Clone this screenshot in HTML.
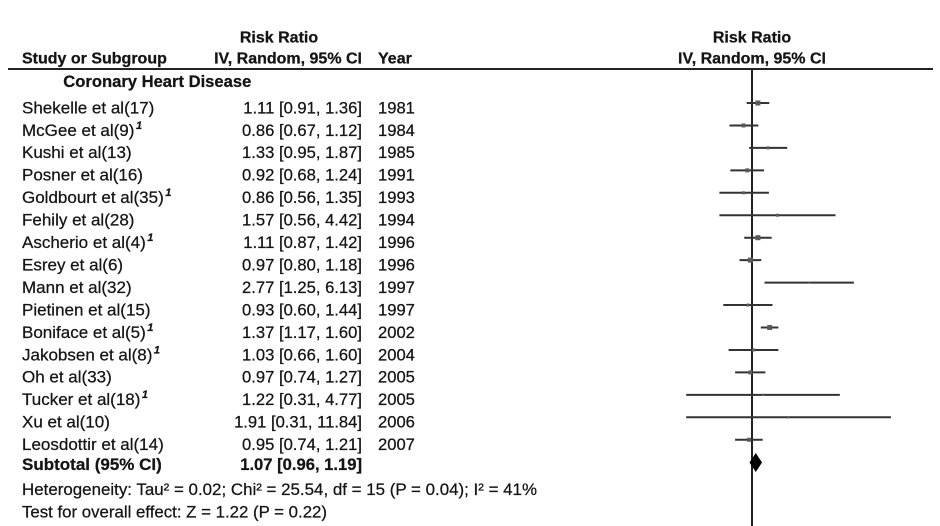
<!DOCTYPE html>
<html><head><meta charset="utf-8"><style>
html,body{margin:0;padding:0;background:#fff;}
svg{display:block;}
text{font-family:"Liberation Sans",Arial,sans-serif;fill:#141414;stroke:#141414;stroke-width:0.25px;}
.b{font-weight:bold;}
.n{font-size:17px;}
.v{font-size:16.6px;}
.h{font-size:16px;font-weight:bold;}
.sup{font-size:11px;font-style:italic;font-weight:bold;}
</style></head><body>
<svg width="940" height="526" viewBox="0 0 940 526" xmlns="http://www.w3.org/2000/svg">
<rect width="940" height="526" fill="#fff"/>
<!-- headers -->
<text class="h" x="279" y="42.7" text-anchor="middle">Risk Ratio</text>
<text class="h" x="22" y="63.5">Study or Subgroup</text>
<text class="h" x="362" y="63.5" text-anchor="end">IV, Random, 95% CI</text>
<text class="h" x="378" y="63.5">Year</text>
<text class="h" x="752" y="42.7" text-anchor="middle">Risk Ratio</text>
<text class="h" x="752" y="63.5" text-anchor="middle">IV, Random, 95% CI</text>
<line x1="8" y1="69" x2="933" y2="69" stroke="#222" stroke-width="2"/>
<line x1="752" y1="69" x2="752" y2="526" stroke="#222" stroke-width="2"/>
<text class="b" x="63.3" y="87" font-size="16.6" textLength="188" lengthAdjust="spacingAndGlyphs">Coronary Heart Disease</text>

<g>
<text class="n" x="22" y="113.3">Shekelle et al(17)</text>
<text class="n" x="22" y="135.75">McGee et al(9)<tspan class="sup" dx="1.5" dy="-7">1</tspan></text>
<text class="n" x="22" y="158.2">Kushi et al(13)</text>
<text class="n" x="22" y="180.65">Posner et al(16)</text>
<text class="n" x="22" y="203.1">Goldbourt et al(35)<tspan class="sup" dx="1.5" dy="-7">1</tspan></text>
<text class="n" x="22" y="225.55">Fehily et al(28)</text>
<text class="n" x="22" y="248">Ascherio et al(4)<tspan class="sup" dx="1.5" dy="-7">1</tspan></text>
<text class="n" x="22" y="270.45">Esrey et al(6)</text>
<text class="n" x="22" y="292.9">Mann et al(32)</text>
<text class="n" x="22" y="315.35">Pietinen et al(15)</text>
<text class="n" x="22" y="337.8">Boniface et al(5)<tspan class="sup" dx="1.5" dy="-7">1</tspan></text>
<text class="n" x="22" y="360.25">Jakobsen et al(8)<tspan class="sup" dx="1.5" dy="-7">1</tspan></text>
<text class="n" x="22" y="382.7">Oh et al(33)</text>
<text class="n" x="22" y="405.15">Tucker et al(18)<tspan class="sup" dx="1.5" dy="-7">1</tspan></text>
<text class="n" x="22" y="427.6">Xu et al(10)</text>
<text class="n" x="22" y="450.05">Leosdottir et al(14)</text>
</g>
<g>
<text class="v" x="362" y="113.3" text-anchor="end">1.11 [0.91, 1.36]</text>
<text class="v" x="362" y="135.75" text-anchor="end">0.86 [0.67, 1.12]</text>
<text class="v" x="362" y="158.2" text-anchor="end">1.33 [0.95, 1.87]</text>
<text class="v" x="362" y="180.65" text-anchor="end">0.92 [0.68, 1.24]</text>
<text class="v" x="362" y="203.1" text-anchor="end">0.86 [0.56, 1.35]</text>
<text class="v" x="362" y="225.55" text-anchor="end">1.57 [0.56, 4.42]</text>
<text class="v" x="362" y="248" text-anchor="end">1.11 [0.87, 1.42]</text>
<text class="v" x="362" y="270.45" text-anchor="end">0.97 [0.80, 1.18]</text>
<text class="v" x="362" y="292.9" text-anchor="end">2.77 [1.25, 6.13]</text>
<text class="v" x="362" y="315.35" text-anchor="end">0.93 [0.60, 1.44]</text>
<text class="v" x="362" y="337.8" text-anchor="end">1.37 [1.17, 1.60]</text>
<text class="v" x="362" y="360.25" text-anchor="end">1.03 [0.66, 1.60]</text>
<text class="v" x="362" y="382.7" text-anchor="end">0.97 [0.74, 1.27]</text>
<text class="v" x="362" y="405.15" text-anchor="end">1.22 [0.31, 4.77]</text>
<text class="v" x="362" y="427.6" text-anchor="end">1.91 [0.31, 11.84]</text>
<text class="v" x="362" y="450.05" text-anchor="end">0.95 [0.74, 1.21]</text>
</g>
<g>
<text class="v" x="378" y="113.3">1981</text>
<text class="v" x="378" y="135.75">1984</text>
<text class="v" x="378" y="158.2">1985</text>
<text class="v" x="378" y="180.65">1991</text>
<text class="v" x="378" y="203.1">1993</text>
<text class="v" x="378" y="225.55">1994</text>
<text class="v" x="378" y="248">1996</text>
<text class="v" x="378" y="270.45">1996</text>
<text class="v" x="378" y="292.9">1997</text>
<text class="v" x="378" y="315.35">1997</text>
<text class="v" x="378" y="337.8">2002</text>
<text class="v" x="378" y="360.25">2004</text>
<text class="v" x="378" y="382.7">2005</text>
<text class="v" x="378" y="405.15">2005</text>
<text class="v" x="378" y="427.6">2006</text>
<text class="v" x="378" y="450.05">2007</text>
</g>
<text class="b n" x="22" y="470">Subtotal (95% CI)</text>
<text class="b v" x="362" y="470" text-anchor="end">1.07 [0.96, 1.19]</text>
<text class="n" x="22" y="495" textLength="515" lengthAdjust="spacingAndGlyphs">Heterogeneity: Tau² = 0.02; Chi² = 25.54, df = 15 (P = 0.04); I² = 41%</text>
<text class="n" x="22" y="517.3" textLength="305" lengthAdjust="spacingAndGlyphs">Test for overall effect: Z = 1.22 (P = 0.22)</text>

<!-- CI bars -->
<g stroke="#333" stroke-width="2">
<line x1="746.7" y1="103" x2="769.3" y2="103"/>
<line x1="729.5" y1="125.45" x2="758.4" y2="125.45"/>
<line x1="749.1" y1="147.9" x2="787.2" y2="147.9"/>
<line x1="730.3" y1="170.35" x2="764.1" y2="170.35"/>
<line x1="719.4" y1="192.8" x2="768.9" y2="192.8"/>
<line x1="719.4" y1="215.25" x2="835.5" y2="215.25"/>
<line x1="744.2" y1="237.7" x2="771.7" y2="237.7"/>
<line x1="739.5" y1="260.15" x2="761.3" y2="260.15"/>
<line x1="764.5" y1="282.6" x2="853.9" y2="282.6"/>
<line x1="723.3" y1="305.05" x2="772.5" y2="305.05"/>
<line x1="760.8" y1="327.5" x2="778.4" y2="327.5"/>
<line x1="728.6" y1="349.95" x2="778.4" y2="349.95"/>
<line x1="735.1" y1="372.4" x2="765.4" y2="372.4"/>
<line x1="686.2" y1="394.85" x2="839.8" y2="394.85"/>
<line x1="686.2" y1="417.3" x2="890.9" y2="417.3"/>
<line x1="735.1" y1="439.75" x2="762.7" y2="439.75"/>
</g>
<!-- point estimates -->
<g fill="#5a5a5a">
<rect x="755.4" y="100.5" width="5" height="5"/>
<rect x="741.5" y="123.45" width="4" height="4"/>
<rect x="766.5" y="146.4" width="3" height="3"/>
<rect x="745.3" y="168.35" width="4" height="4"/>
<rect x="742" y="191.3" width="3" height="3"/>
<rect x="776" y="213.75" width="3" height="3"/>
<rect x="755.4" y="235.2" width="5" height="5"/>
<rect x="747.8" y="257.65" width="5" height="5"/>
<rect x="808.3" y="281.6" width="2" height="2"/>
<rect x="746.4" y="303.55" width="3" height="3"/>
<rect x="767.2" y="325" width="5" height="5"/>
<rect x="752.2" y="348.45" width="3" height="3"/>
<rect x="748.3" y="370.4" width="4" height="4"/>
<rect x="762.2" y="393.85" width="2" height="2"/>
<rect x="787.4" y="416.3" width="2" height="2"/>
<rect x="747.1" y="437.75" width="4" height="4"/>
</g>
<!-- subtotal diamond -->
<polygon points="749.5,462.5 755.8,453 762,462.5 755.8,472" fill="#000"/>
</svg>
</body></html>
